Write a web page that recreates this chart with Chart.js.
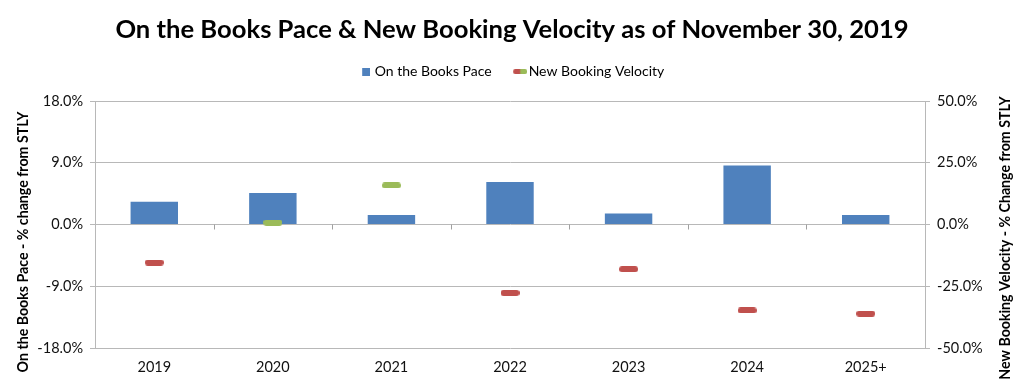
<!DOCTYPE html>
<html>
<head>
<meta charset="utf-8">
<script src="https://cdn.jsdelivr.net/npm/chart.js@4"></script>
<style>
  html, body { margin: 0; padding: 0; background: #fff; }
  #wrap { width: 1024px; height: 385px; position: relative; }
</style>
</head>
<body>
<div id="wrap"><canvas id="c" width="1024" height="385"></canvas></div>
<script>
// ---- data ----
const categories = ['2019', '2020', '2021', '2022', '2023', '2024', '2025+'];
const booksPace = [3.3, 4.6, 1.4, 6.2, 1.6, 8.6, 1.4];          // % change from STLY (left axis)
const bookingVelocity = [-15.4, 0.8, 15.8, -27.7, -18.1, -34.8, -36.1]; // % change from STLY (right axis)
const leftTicks = [-18, -9, 0, 9, 18];
const rightTicks = [-50, -25, 0, 25, 50];

const TITLE = 'On the Books Pace & New Booking Velocity as of November 30, 2019';
const LEFT_TITLE = 'On the Books Pace - % change from STLY';
const RIGHT_TITLE = 'New Booking Velocity - % Change from STLY';

// ---- styles ----
const BLUE = '#4F81BD', RED = '#C0504D', GREEN = '#9BBB59';
const GRID = '#b8b8b8', TXT = '#111111';
const FONT = "Lato, 'Open Sans', sans-serif";

function dash(color, w, h, padLeft) {
  const c = document.createElement('canvas');
  c.width = w + padLeft; c.height = h;
  const x = c.getContext('2d');
  x.fillStyle = color;
  x.beginPath();
  x.roundRect(padLeft, 0, w, h, h / 2);
  x.fill();
  return c;
}
function legendSquare() {
  const c = document.createElement('canvas');
  c.width = 13; c.height = 8;
  const x = c.getContext('2d');
  x.fillStyle = BLUE; x.fillRect(5, 0, 8, 8);
  return c;
}
function legendDash() {
  const c = document.createElement('canvas');
  c.width = 19; c.height = 5;
  const x = c.getContext('2d');
  const g = x.createLinearGradient(5, 0, 19, 0);
  g.addColorStop(0, RED); g.addColorStop(0.45, RED); g.addColorStop(0.55, GREEN); g.addColorStop(1, GREEN);
  x.fillStyle = g;
  x.beginPath(); x.roundRect(5, 0, 14, 5, 2); x.fill();
  return c;
}
const pointImgs = bookingVelocity.map(v => dash(v >= 0 ? GREEN : RED, 19, 6, 0));

const zeroTicks = {
  id: 'zeroTicks',
  afterDatasetsDraw(chart) {
    const xs = chart.scales.x, ys = chart.scales.y, ctx = chart.ctx;
    const y0 = ys.getPixelForValue(0);
    ctx.save();
    ctx.strokeStyle = '#a0a0a0'; ctx.lineWidth = 1;
    for (let i = 0; i < categories.length - 1; i++) {
      const px = Math.round((xs.getPixelForValue(i) + xs.getPixelForValue(i + 1)) / 2) + 0.5;
      ctx.beginPath(); ctx.moveTo(px, y0); ctx.lineTo(px, y0 + 5); ctx.stroke();
    }
    ctx.restore();
  }
};

// axis titles, both reading bottom-to-top as in the original
const axisTitles = {
  id: 'axisTitles',
  afterDraw(chart) {
    const ctx = chart.ctx;
    ctx.save();
    ctx.fillStyle = '#000';
    ctx.font = "bold 14.2px " + FONT;
    ctx.textAlign = 'center'; ctx.textBaseline = 'middle';
    ctx.save(); ctx.translate(23, 242); ctx.rotate(-Math.PI / 2); ctx.fillText(LEFT_TITLE, 0, 0); ctx.restore();
    ctx.save(); ctx.translate(1005, 238); ctx.rotate(-Math.PI / 2); ctx.fillText(RIGHT_TITLE, 0, 0); ctx.restore();
    ctx.restore();
  }
};

new Chart(document.getElementById('c'), {
  data: {
    labels: categories,
    datasets: [
      {
        type: 'line', label: 'New Booking Velocity', data: bookingVelocity, yAxisID: 'y1',
        showLine: false, pointStyle: pointImgs, pointRadius: 9, order: 0
      },
      {
        type: 'bar', label: 'On the Books Pace', data: booksPace, yAxisID: 'y',
        backgroundColor: BLUE, borderWidth: 0,
        categoryPercentage: 1, barPercentage: 0.4, order: 1
      }
    ]
  },
  options: {
    responsive: false, animation: false, events: [],
    layout: { padding: 0 },
    plugins: {
      tooltip: { enabled: false },
      title: {
        display: true, text: TITLE, color: '#000',
        font: { family: FONT, size: 25.6, weight: 'bold', lineHeight: 1 },
        padding: { top: 17, bottom: 0 }
      },
      subtitle: {
        display: true, text: ' ', weight: 500,
        font: { size: 1, lineHeight: 1 }, padding: { top: 0, bottom: 11.4 }
      },
      legend: {
        display: true,
        labels: {
          usePointStyle: true, pointStyleWidth: 8, padding: 22, color: TXT,
          font: { family: FONT, size: 14 },
          generateLabels: () => [
            { text: 'On the Books Pace', pointStyle: legendSquare(), fillStyle: BLUE, strokeStyle: BLUE, lineWidth: 0, hidden: false, datasetIndex: 1 },
            { text: 'New Booking Velocity', pointStyle: legendDash(), fillStyle: RED, strokeStyle: RED, lineWidth: 0, hidden: false, datasetIndex: 0 }
          ]
        }
      }
    },
    scales: {
      x: {
        type: 'category', offset: true,
        grid: { display: false, drawTicks: false },
        border: { display: false },
        ticks: { color: TXT, font: { family: FONT, size: 14.5 }, padding: 11, maxRotation: 0 },
        afterFit(s) { s.height = 37; }
      },
      y: {
        position: 'left', min: -18, max: 18,
        afterBuildTicks(s) { s.ticks = leftTicks.map(v => ({ value: v })); },
        ticks: { color: TXT, font: { family: FONT, size: 14.5 }, padding: 7, callback: v => v.toFixed(1) + '%' },
        grid: { color: GRID, lineWidth: 1, tickLength: 5 },
        border: { display: true, color: GRID },
        afterFit(s) { s.width = 95; }
      },
      y1: {
        position: 'right', min: -50, max: 50,
        afterBuildTicks(s) { s.ticks = rightTicks.map(v => ({ value: v })); },
        ticks: { color: TXT, font: { family: FONT, size: 14.5 }, padding: 7, callback: v => v.toFixed(1) + '%' },
        grid: { drawOnChartArea: false, color: GRID, tickLength: 5 },
        border: { display: true, color: GRID },
        afterFit(s) { s.width = 99; }
      }
    }
  },
  plugins: [zeroTicks, axisTitles]
});
</script>
</body>
</html>
